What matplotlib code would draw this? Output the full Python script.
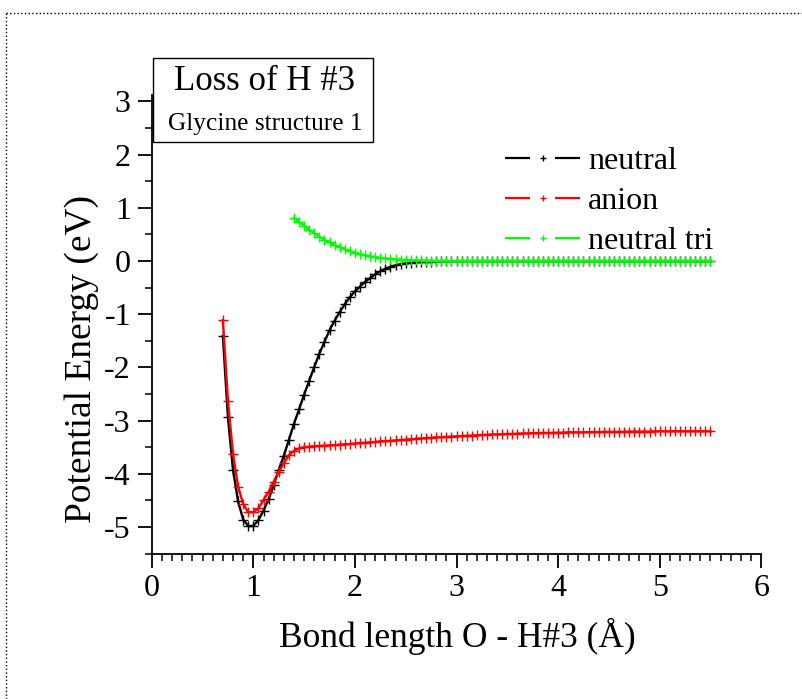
import matplotlib
matplotlib.use('Agg')
import matplotlib.pyplot as plt
from matplotlib.lines import Line2D
from matplotlib.patches import Rectangle
from matplotlib.ticker import MultipleLocator

plt.rcParams['font.family'] = ['Liberation Serif', 'DejaVu Serif']

# bond length O - H#3 (Angstrom)
bond_x = [
    0.70, 0.75, 0.80, 0.85, 0.90, 0.95, 1.00, 1.05, 1.10, 1.15,
    1.20, 1.25, 1.30, 1.35, 1.40, 1.45, 1.50, 1.55, 1.60, 1.65,
    1.70, 1.75, 1.80, 1.85, 1.90, 1.95, 2.00, 2.05, 2.10, 2.15,
    2.20, 2.25, 2.30, 2.35, 2.40, 2.45, 2.50, 2.55, 2.60, 2.65,
    2.70, 2.75, 2.80, 2.85, 2.90, 2.95, 3.00, 3.05, 3.10, 3.15,
    3.20, 3.25, 3.30, 3.35, 3.40, 3.45, 3.50, 3.55, 3.60, 3.65,
    3.70, 3.75, 3.80, 3.85, 3.90, 3.95, 4.00, 4.05, 4.10, 4.15,
    4.20, 4.25, 4.30, 4.35, 4.40, 4.45, 4.50, 4.55, 4.60, 4.65,
    4.70, 4.75, 4.80, 4.85, 4.90, 4.95, 5.00, 5.05, 5.10, 5.15,
    5.20, 5.25, 5.30, 5.35, 5.40, 5.45, 5.50]

# potential energy (eV)
neutral = [
    -1.41, -2.94, -3.93, -4.52, -4.86, -4.98, -4.98, -4.87, -4.69, -4.48,
    -4.21, -3.93, -3.66, -3.36, -3.06, -2.79, -2.51, -2.25, -1.99, -1.74,
    -1.52, -1.30, -1.12, -0.96, -0.81, -0.68, -0.57, -0.48, -0.39, -0.32,
    -0.25, -0.19, -0.145, -0.11, -0.08, -0.06, -0.045, -0.033, -0.024, -0.017,
    -0.012, -0.009, -0.006, -0.004, -0.003, -0.002, -0.001, 0.0, 0.0, 0.0,
    0.0, 0.0, 0.0, 0.0, 0.0, 0.0, 0.0, 0.0, 0.0, 0.0,
    0.0, 0.0, 0.0, 0.0, 0.0, 0.0, 0.0, 0.0, 0.0, 0.0,
    0.0, 0.0, 0.0, 0.0, 0.0, 0.0, 0.0, 0.0, 0.0, 0.0,
    0.0, 0.0, 0.0, 0.0, 0.0, 0.0, 0.0, 0.0, 0.0, 0.0,
    0.0, 0.0, 0.0, 0.0, 0.0, 0.0, 0.0]

anion = [
    -1.11, -2.63, -3.63, -4.24, -4.57, -4.72, -4.72, -4.65, -4.49, -4.34,
    -4.15, -3.96, -3.80, -3.65, -3.57, -3.52, -3.50, -3.49, -3.48, -3.475,
    -3.47, -3.465, -3.46, -3.45, -3.445, -3.44, -3.43, -3.42, -3.415, -3.41,
    -3.40, -3.39, -3.385, -3.38, -3.37, -3.365, -3.355, -3.35, -3.34, -3.335,
    -3.33, -3.32, -3.315, -3.31, -3.305, -3.30, -3.295, -3.29, -3.285, -3.28,
    -3.275, -3.27, -3.265, -3.26, -3.26, -3.255, -3.25, -3.25, -3.245, -3.24,
    -3.24, -3.235, -3.235, -3.23, -3.23, -3.23, -3.225, -3.225, -3.22, -3.22,
    -3.22, -3.22, -3.215, -3.215, -3.215, -3.21, -3.21, -3.21, -3.21, -3.21,
    -3.205, -3.205, -3.205, -3.205, -3.205, -3.20, -3.20, -3.20, -3.20, -3.20,
    -3.20, -3.20, -3.20, -3.20, -3.20, -3.20, -3.20]

# triplet starts at 1.40 A
tri_x = bond_x[14:]
neutral_tri = [
    0.81, 0.74, 0.66, 0.59, 0.52, 0.46, 0.40, 0.35, 0.30, 0.26,
    0.22, 0.19, 0.16, 0.13, 0.11, 0.09, 0.075, 0.06, 0.05, 0.04,
    0.033, 0.027, 0.022, 0.018, 0.014, 0.011, 0.009, 0.007, 0.005, 0.004,
    0.003, 0.002, 0.001, 0.0, 0.0, 0.0, 0.0, 0.0, 0.0, 0.0,
    0.0, 0.0, 0.0, 0.0, 0.0, 0.0, 0.0, 0.0, 0.0, 0.0,
    0.0, 0.0, 0.0, 0.0, 0.0, 0.0, 0.0, 0.0, 0.0, 0.0,
    0.0, 0.0, 0.0, 0.0, 0.0, 0.0, 0.0, 0.0, 0.0, 0.0,
    0.0, 0.0, 0.0, 0.0, 0.0, 0.0, 0.0, 0.0, 0.0, 0.0,
    0.0, 0.0, 0.0]

labels = ['neutral', 'anion', 'neutral tri']
colors = ['black', '#ff0000', '#00ff00']

fig = plt.figure(figsize=(8.03, 6.99), dpi=100)
ax = fig.add_axes([0.189, 0.208, 0.759, 0.656])

series = [(bond_x, neutral), (bond_x, anion), (tri_x, neutral_tri)]
for (xs, ys), c in zip(series, colors):
    ax.plot(xs, ys, color=c, lw=1.7, marker='+', ms=6.5, mew=1.0)

ax.set_xlim(0, 6)
ax.set_ylim(-5.5, 3.12)
ax.xaxis.set_major_locator(MultipleLocator(1))
ax.xaxis.set_minor_locator(MultipleLocator(0.1))
ax.yaxis.set_minor_locator(MultipleLocator(0.5))
ax.set_yticks([-5, -4, -3, -2, -1, 0, 1, 2, 3])
ax.set_yticklabels(['-5', '-4', '-3', '-2', '-1', '0', '1', '2', '3'])
ax.tick_params(which='major', length=10, width=1.3, labelsize=23, pad=5)
ax.tick_params(which='minor', length=5, width=1.1)
for s in ['top', 'right']:
    ax.spines[s].set_visible(False)
for s in ['left', 'bottom']:
    ax.spines[s].set_linewidth(1.3)

# legend handles: line - marker - line
handles = [Line2D([], [], color=c, lw=1.6, ls=(0, (11.25, 11.25)), marker='+', ms=5, mew=1.0)
           for c in colors]
ax.legend(handles, labels, loc='upper left', bbox_to_anchor=(0.629, 0.790),
          bbox_transform=fig.transFigure, frameon=False, fontsize=23,
          handlelength=2.35, handletextpad=0.25, labelspacing=0.33,
          borderpad=0, borderaxespad=0)

fig.text(82 / 803, 1 - 359 / 699, 'Potential Energy (eV)', rotation=90,
         ha='center', va='center', fontsize=27)
fig.text(457 / 803, 1 - 636 / 699, 'Bond length O - H#3 (Å)',
         ha='center', va='center', fontsize=25.5)

# title box
fig.patches.append(Rectangle((153 / 803, 1 - 142 / 699), 220 / 803, 84 / 699,
                             transform=fig.transFigure, facecolor='white',
                             edgecolor='black', lw=1.0, zorder=5))
fig.text(265 / 803, 1 - 82 / 699, 'Loss of H #3', ha='center', va='center',
         fontsize=25, zorder=6)
fig.text(265 / 803, 1 - 124 / 699, 'Glycine structure 1', ha='center', va='center',
         fontsize=18.3, zorder=6)

# dotted page border
fig.lines.append(Line2D([6 / 803, 1], [1 - 13 / 699, 1 - 13 / 699], transform=fig.transFigure,
                        color='black', lw=1.0, ls=':'))
fig.lines.append(Line2D([6 / 803, 6 / 803], [0, 1 - 13 / 699], transform=fig.transFigure,
                        color='black', lw=1.0, ls=':'))

fig.savefig('out.png', dpi=100)
